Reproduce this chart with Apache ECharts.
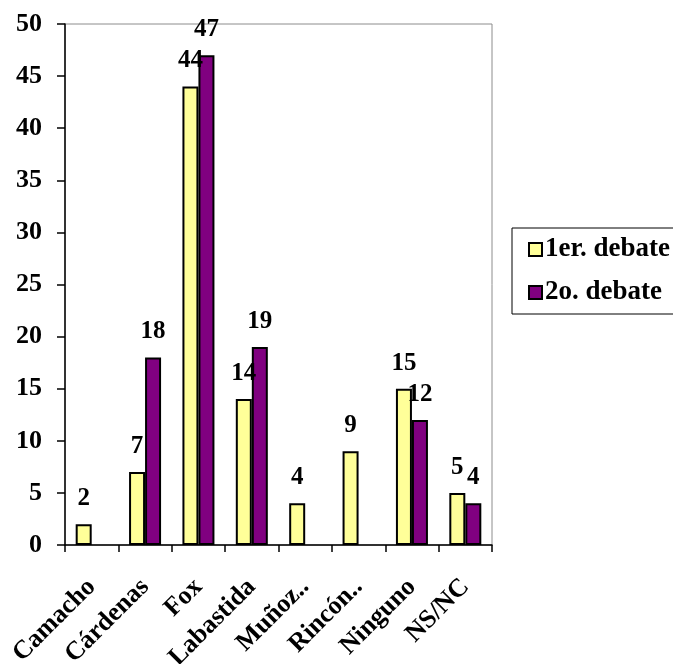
<!DOCTYPE html>
<html>
<head>
<meta charset="utf-8">
<script src="https://cdn.jsdelivr.net/npm/echarts@6/dist/echarts.min.js"></script>
<style>
  html, body { margin: 0; padding: 0; background: #fff; }
  #chart { width: 673px; height: 664px; }
</style>
</head>
<body>
<div id="chart"></div>
<script>
// Candidates and percentages after each debate
const categories = ['Camacho', 'Cárdenas', 'Fox', 'Labastida', 'Muñoz..', 'Rincón..', 'Ninguno', 'NS/NC'];
const primerDebate = [2, 7, 44, 14, 4, 9, 15, 5];
const segundoDebate = [null, 18, 47, 19, null, null, 12, 4];
const seriesNames = ['1er. debate', '2o. debate'];
const yTicks = { min: 0, max: 50, interval: 5 };

const FONT = 'Liberation Serif, Times New Roman, serif';
const labelStyle = {
  show: true,
  position: 'top',
  distance: 13,
  color: '#000',
  fontFamily: FONT,
  fontWeight: 'bold',
  fontSize: 25
};

const chart = echarts.init(document.getElementById('chart'), null, { renderer: 'canvas' });

chart.setOption({
  backgroundColor: '#ffffff',
  animation: false,
  grid: {
    left: 65, right: 181, top: 24, bottom: 119,
    containLabel: false,
    outerBoundsMode: 'none',
    show: true, borderColor: '#8c8c8c', borderWidth: 1
  },
  legend: {
    orient: 'vertical',
    left: 512,
    top: 228,
    padding: [8, 30, 8, 16],
    itemGap: 16,
    itemWidth: 13,
    itemHeight: 13,
    icon: 'rect',
    borderColor: '#000',
    borderWidth: 1,
    textStyle: { fontFamily: FONT, fontWeight: 'bold', fontSize: 27, color: '#000', padding: [0, 0, 0, -2] },
    data: seriesNames
  },
  xAxis: {
    type: 'category',
    data: categories,
    axisLine: { show: true, lineStyle: { color: '#000', width: 1.5 } },
    axisTick: { show: true, length: 7, lineStyle: { color: '#000', width: 1.5 } },
    axisLabel: {
      interval: 0,
      rotate: 45,
      margin: 38,
      padding: [26, 0, 0, 0],
      color: '#000',
      fontFamily: FONT,
      fontWeight: 'bold',
      fontSize: 26
    },
    splitLine: { show: false }
  },
  yAxis: {
    type: 'value',
    min: yTicks.min,
    max: yTicks.max,
    interval: yTicks.interval,
    axisLine: { show: true, lineStyle: { color: '#000', width: 1.5 } },
    axisTick: { show: true, length: 8, lineStyle: { color: '#000', width: 1.5 } },
    axisLabel: {
      margin: 23,
      color: '#000',
      fontFamily: FONT,
      fontWeight: 'bold',
      fontSize: 26
    },
    splitLine: { show: false }
  },
  series: [
    {
      name: seriesNames[0],
      type: 'bar',
      data: primerDebate,
      barWidth: 16,
      barGap: '0%',
      itemStyle: { color: '#FFFF99', borderColor: '#000', borderWidth: 2 },
      label: labelStyle
    },
    {
      name: seriesNames[1],
      type: 'bar',
      data: segundoDebate,
      barWidth: 16,
      barGap: '0%',
      itemStyle: { color: '#800080', borderColor: '#000', borderWidth: 2 },
      label: labelStyle
    }
  ]
});
</script>
</body>
</html>
